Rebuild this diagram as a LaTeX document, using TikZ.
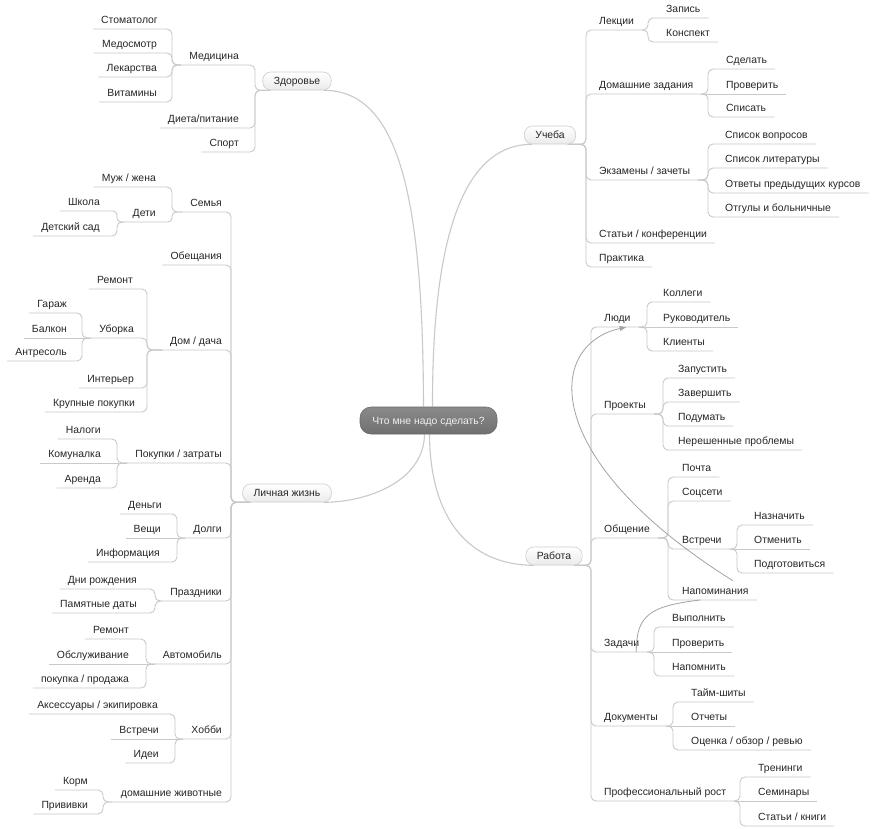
\documentclass[tikz,border=0pt]{standalone}
\usepackage{fontspec}
\setmainfont{Liberation Sans}
\usetikzlibrary{calc,arrows.meta}
\definecolor{ln}{HTML}{C9C9C9}
\definecolor{txt}{HTML}{262626}
\definecolor{relc}{HTML}{A3A3A3}
\definecolor{rootT}{HTML}{8A8A8A}
\definecolor{rootB}{HTML}{707070}
\definecolor{rootD}{HTML}{6A6A6A}
\definecolor{rootTxt}{HTML}{F0F0F0}
\pgfdeclarelayer{bg}
\pgfsetlayers{bg,main}
% left child: underline, bracket, join to parent point
\newcommand\mmL[4][]{\draw[br,#1] (#2.south west) -- (#3 |- #2.south) -- (#3 |- #4) -- (#4);}
\newcommand\mmR[4][]{\draw[br,#1] (#2.south east) -- (#3 |- #2.south) -- (#3 |- #4) -- (#4);}
\newcommand\mmLs[2]{\draw[br] (#1.south west) -- (#2);}
\newcommand\mmRs[2]{\draw[br] (#1.south east) -- (#2);}
\begin{document}
\begin{tikzpicture}[x=1pt,y=-1pt,
  every node/.style={font=\fontsize{10.4}{12}\selectfont, text=txt},
  lbl/.style={inner xsep=8pt, inner ysep=0pt, text height=8pt, text depth=5pt},
  L/.style={lbl, anchor=south east, xshift=8pt},
  R/.style={lbl, anchor=south west, xshift=-8pt},
  pill/.style={draw=gray!40, top color=white, bottom color=gray!16, rounded corners=8pt,
    minimum height=18pt, inner xsep=11pt, inner ysep=0pt, text height=9.4pt, text depth=2pt, line width=0.6pt},
  root/.style={draw=rootD, top color=rootT, bottom color=rootB, rounded corners=11pt,
    minimum height=27pt, minimum width=137pt, inner ysep=0pt, text height=9.4pt, text depth=2pt, text=rootTxt, line width=0.6pt},
  br/.style={draw=ln, line width=0.9pt, rounded corners=5pt},
  mainbr/.style={draw=ln, line width=1.1pt},
  relln/.style={draw=relc, line width=0.8pt},
]
\useasboundingbox (0,0) rectangle (878,828);

% ---------- root and main topics ----------
\node[root] (cen) at (428.5,420.5) {Что мне надо сделать?};
\node[pill] (Zd) at (297,81) {Здоровье};
\node[pill] (LZh) at (287,493) {Личная жизнь};
\node[pill] (Uch) at (550,135) {Учеба};
\node[pill] (Rab) at (554,556) {Работа};
\coordinate (ZdL) at ([xshift=8pt]Zd.south west);
\coordinate (ZdR) at ([xshift=-8pt]Zd.south east);
\coordinate (LZhL) at ([xshift=8pt]LZh.south west);
\coordinate (LZhR) at ([xshift=-8pt]LZh.south east);
\coordinate (UchL) at ([xshift=8pt]Uch.south west);
\coordinate (UchR) at ([xshift=-8pt]Uch.south east);
\coordinate (RabL) at ([xshift=8pt]Rab.south west);
\coordinate (RabR) at ([xshift=-8pt]Rab.south east);

% ---------- Здоровье ----------
\node[L] (Stom) at (158,29) {Стоматолог};
\node[L] (Medo) at (157,53) {Медосмотр};
\node[L] (Lekar) at (157,77) {Лекарства};
\node[L] (Vit) at (157,102) {Витамины};
\node[L] (Med) at (239,65) {Медицина};
\node[L] (Diet) at (239,128) {Диета/питание};
\node[L] (Sport) at (239,152) {Спорт};

% ---------- Личная жизнь ----------
\node[L] (Muzh) at (156,187) {Муж / жена};
\node[L] (Deti) at (156,222) {Дети};
\node[L] (Shk) at (100,211) {Школа};
\node[L] (Dsad) at (100,236) {Детский сад};
\node[L] (Sem) at (222,212) {Семья};
\node[L] (Obesch) at (222,265) {Обещания};
\node[L] (Rem1) at (133,289) {Ремонт};
\node[L] (Ubo) at (134,338) {Уборка};
\node[L] (Gar) at (67,313) {Гараж};
\node[L] (Balk) at (67,338) {Балкон};
\node[L] (Antr) at (67,361) {Антресоль};
\node[L] (Inter) at (134,388) {Интерьер};
\node[L] (Krup) at (135,412) {Крупные покупки};
\node[L] (Dom) at (222,350) {Дом / дача};
\node[L] (Nal) at (101,439) {Налоги};
\node[L] (Kom) at (101,463) {Комуналка};
\node[L] (Ar) at (101,488) {Аренда};
\node[L] (Pok) at (222,463) {Покупки / затраты};
\node[L] (Den) at (162,514) {Деньги};
\node[L] (Veshch) at (161,538) {Вещи};
\node[L] (Info) at (160,562) {Информация};
\node[L] (Dolg) at (222,538) {Долги};
\node[L] (Dnir) at (137,589) {Дни рождения};
\node[L] (Pam) at (137,613) {Памятные даты};
\node[L] (Prazd) at (222,601) {Праздники};
\node[L] (Rem2) at (129,639) {Ремонт};
\node[L] (Obsl) at (129,664) {Обслуживание};
\node[L] (Kupr) at (129,688) {покупка / продажа};
\node[L] (Avto) at (222,664) {Автомобиль};
\node[L] (Aks) at (158,714) {Аксессуары / экипировка};
\node[L] (Vstr1) at (159,739) {Встречи};
\node[L] (Idei) at (159,763) {Идеи};
\node[L] (Hob) at (222,739) {Хобби};
\node[L] (Korm) at (88,790) {Корм};
\node[L] (Priv) at (88,814) {Прививки};
\node[L] (Zhiv) at (222,802) {домашние животные};

% ---------- Учеба ----------
\node[R] (Lekc) at (599,30) {Лекции};
\node[R] (Zap) at (666,18) {Запись};
\node[R] (Kons) at (666,42) {Конспект};
\node[R] (DZ) at (599,94) {Домашние задания};
\node[R] (Sdel) at (726,69) {Сделать};
\node[R] (Prov1) at (726,94) {Проверить};
\node[R] (Spis) at (726,117) {Списать};
\node[R] (Ekz) at (599,180) {Экзамены / зачеты};
\node[R] (SpV) at (725,144) {Список вопросов};
\node[R] (SpL) at (725,168) {Список литературы};
\node[R] (Otv) at (725,193) {Ответы предыдущих курсов};
\node[R] (Otg) at (725,217) {Отгулы и больничные};
\node[R] (Stat) at (599,243) {Статьи / конференции};
\node[R] (Prak) at (599,267) {Практика};

% ---------- Работа ----------
\node[R] (Lud) at (604,327) {Люди};
\node[R] (Kol) at (663,302) {Коллеги};
\node[R] (Ruk) at (663,327) {Руководитель};
\node[R] (Kli) at (663,351) {Клиенты};
\node[R] (Proe) at (604,414) {Проекты};
\node[R] (Zapu) at (678,378) {Запустить};
\node[R] (Zave) at (678,402) {Завершить};
\node[R] (Podu) at (678,426) {Подумать};
\node[R] (Nere) at (678,450) {Нерешенные проблемы};
\node[R] (Obsh) at (604,538) {Общение};
\node[R] (Poch) at (682,477) {Почта};
\node[R] (Socs) at (682,501) {Соцсети};
\node[R] (Vstr2) at (682,549) {Встречи};
\node[R] (Nazn) at (754,525) {Назначить};
\node[R] (Otme) at (754,549) {Отменить};
\node[R] (Podg) at (754,573) {Подготовиться};
\node[R] (Nap) at (682,600) {Напоминания};
\node[R] (Zad) at (604,652) {Задачи};
\node[R] (Vyp) at (672,627) {Выполнить};
\node[R] (Prov2) at (672,652) {Проверить};
\node[R] (Napo) at (672,676) {Напомнить};
\node[R] (Dok) at (604,726) {Документы};
\node[R] (Taim) at (691,702) {Тайм-шиты};
\node[R] (Otch) at (691,726) {Отчеты};
\node[R] (Otsen) at (691,750) {Оценка / обзор / ревью};
\node[R] (ProfR) at (604,801) {Профессиональный рост};
\node[R] (Tren) at (758,777) {Тренинги};
\node[R] (Semi) at (758,801) {Семинары};
\node[R] (StatK) at (758,826) {Статьи / книги};

% ---------- bracket columns ----------
\coordinate (bZd) at (255,0);
\coordinate (bMed) at (172,0);
\coordinate (bLZh) at (231,0);
\coordinate (bSem) at (172,0);
\coordinate (bDeti) at (117,0);
\coordinate (bDom) at (147,0);
\coordinate (bUb) at (82,0);
\coordinate (bPok) at (117,0);
\coordinate (bDol) at (177,0);
\coordinate (bPraz) at (155,0);
\coordinate (bAvto) at (146,0);
\coordinate (bHob) at (175,0);
\coordinate (bZhiv) at (103,0);
\coordinate (bUch) at (586,0);
\coordinate (bLekc) at (648,0);
\coordinate (bDZ) at (708,0);
\coordinate (bEkz) at (708,0);
\coordinate (bRab) at (591,0);
\coordinate (bLud) at (647,0);
\coordinate (bProe) at (663,0);
\coordinate (bObsh) at (668,0);
\coordinate (bVstr) at (737,0);
\coordinate (bZad) at (654,0);
\coordinate (bDok) at (673,0);
\coordinate (bProf) at (740,0);

\begin{pgfonlayer}{bg}
\fill[white] (0,0) rectangle (878,828);
% main curves
\draw[mainbr] ([xshift=-5pt]cen.north) .. controls (423,200) and (400,90) .. (ZdR);
\draw[mainbr] ([xshift=4pt]cen.north) .. controls (432,220) and (470,144) .. (UchL);
\draw[mainbr] ([xshift=-4pt]cen.south) .. controls (424,480) and (370,502) .. (LZhR);
\draw[mainbr] ([xshift=1pt]cen.south) .. controls (430,520) and (470,565) .. (RabL);

% Здоровье
\mmL{Med}{bZd}{ZdL}
\mmL{Diet}{bZd}{ZdL}
\mmL{Sport}{bZd}{ZdL}
\mmL{Stom}{bMed}{Med.south west}
\mmL{Medo}{bMed}{Med.south west}
\mmL{Lekar}{bMed}{Med.south west}
\mmL{Vit}{bMed}{Med.south west}

% Личная жизнь
\mmL{Sem}{bLZh}{LZhL}
\mmL{Obesch}{bLZh}{LZhL}
\mmL{Dom}{bLZh}{LZhL}
\mmL{Pok}{bLZh}{LZhL}
\mmL{Dolg}{bLZh}{LZhL}
\mmL{Prazd}{bLZh}{LZhL}
\mmL{Avto}{bLZh}{LZhL}
\mmL{Hob}{bLZh}{LZhL}
\mmL{Zhiv}{bLZh}{LZhL}
\mmL{Muzh}{bSem}{Sem.south west}
\mmL[rounded corners=4pt]{Deti}{bSem}{Sem.south west}
\mmL[rounded corners=4pt]{Shk}{bDeti}{Deti.south west}
\mmL{Dsad}{bDeti}{Deti.south west}
\mmL{Rem1}{bDom}{Dom.south west}
\mmL{Ubo}{bDom}{Dom.south west}
\mmL{Inter}{bDom}{Dom.south west}
\mmL{Krup}{bDom}{Dom.south west}
\mmL{Gar}{bUb}{Ubo.south west}
\mmLs{Balk}{Ubo.south west}
\mmL{Antr}{bUb}{Ubo.south west}
\mmL{Nal}{bPok}{Pok.south west}
\mmLs{Kom}{Pok.south west}
\mmL{Ar}{bPok}{Pok.south west}
\mmL{Den}{bDol}{Dolg.south west}
\mmLs{Veshch}{Dolg.south west}
\mmL{Info}{bDol}{Dolg.south west}
\mmL{Dnir}{bPraz}{Prazd.south west}
\mmL{Pam}{bPraz}{Prazd.south west}
\mmL{Rem2}{bAvto}{Avto.south west}
\mmLs{Obsl}{Avto.south west}
\mmL{Kupr}{bAvto}{Avto.south west}
\mmL{Aks}{bHob}{Hob.south west}
\mmLs{Vstr1}{Hob.south west}
\mmL{Idei}{bHob}{Hob.south west}
\mmL{Korm}{bZhiv}{Zhiv.south west}
\mmL{Priv}{bZhiv}{Zhiv.south west}

% Учеба
\mmR{Lekc}{bUch}{UchR}
\mmR{DZ}{bUch}{UchR}
\mmR{Ekz}{bUch}{UchR}
\mmR{Stat}{bUch}{UchR}
\mmR{Prak}{bUch}{UchR}
\mmR{Zap}{bLekc}{Lekc.south east}
\mmR{Kons}{bLekc}{Lekc.south east}
\mmR{Sdel}{bDZ}{DZ.south east}
\mmRs{Prov1}{DZ.south east}
\mmR{Spis}{bDZ}{DZ.south east}
\mmR{SpV}{bEkz}{Ekz.south east}
\mmR{SpL}{bEkz}{Ekz.south east}
\mmR{Otv}{bEkz}{Ekz.south east}
\mmR{Otg}{bEkz}{Ekz.south east}

% Работа
\mmR{Lud}{bRab}{RabR}
\mmR{Proe}{bRab}{RabR}
\mmR{Obsh}{bRab}{RabR}
\mmR{Zad}{bRab}{RabR}
\mmR{Dok}{bRab}{RabR}
\mmR{ProfR}{bRab}{RabR}
\mmR{Kol}{bLud}{Lud.south east}
\mmRs{Ruk}{Lud.south east}
\mmR{Kli}{bLud}{Lud.south east}
\mmR{Zapu}{bProe}{Proe.south east}
\mmR{Zave}{bProe}{Proe.south east}
\mmR{Podu}{bProe}{Proe.south east}
\mmR{Nere}{bProe}{Proe.south east}
\mmR{Poch}{bObsh}{Obsh.south east}
\mmR{Socs}{bObsh}{Obsh.south east}
\mmR{Vstr2}{bObsh}{Obsh.south east}
\mmR{Nap}{bObsh}{Obsh.south east}
\mmR{Nazn}{bVstr}{Vstr2.south east}
\mmRs{Otme}{Vstr2.south east}
\mmR{Podg}{bVstr}{Vstr2.south east}
\mmR{Vyp}{bZad}{Zad.south east}
\mmRs{Prov2}{Zad.south east}
\mmR{Napo}{bZad}{Zad.south east}
\mmR{Taim}{bDok}{Dok.south east}
\mmRs{Otch}{Dok.south east}
\mmR{Otsen}{bDok}{Dok.south east}
\mmR{Tren}{bProf}{ProfR.south east}
\mmRs{Semi}{ProfR.south east}
\mmR{StatK}{bProf}{ProfR.south east}
\end{pgfonlayer}

% relationships
\draw[relln, -{Latex[length=7pt,width=5.5pt]}] ($(Nap.north east)+(-24,-6)$) .. controls (540,460) and (545,345) .. ([xshift=-12pt]Lud.south east);
\draw[relln] ([xshift=26pt]Nap.south west) .. controls (650,606) and (636,615) .. ([xshift=-11pt]Zad.south east);
\end{tikzpicture}
\end{document}
